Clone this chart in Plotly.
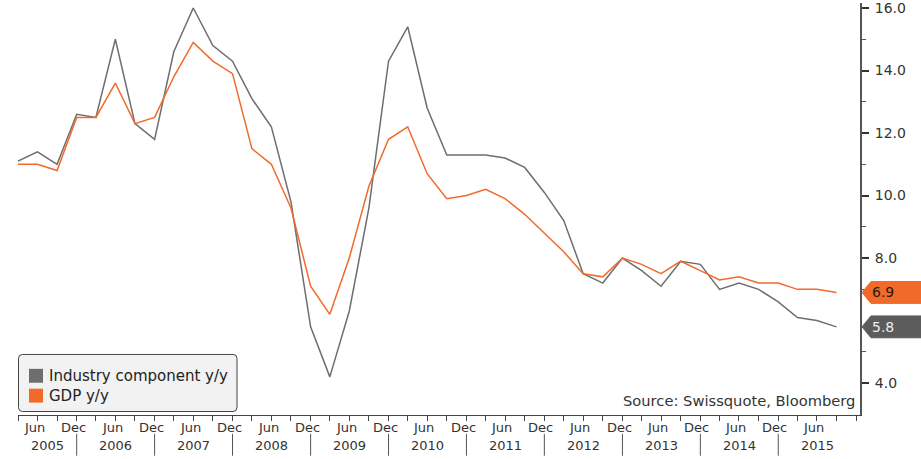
import plotly.graph_objects as go

# Quarter-end dates, Q1 2005 .. Q3 2015
quarters = [f"{y}-{md}" for y in range(2005, 2016)
            for md in ("03-31", "06-30", "09-30", "12-31")][:43]

industry_yy = [11.1, 11.4, 11.0, 12.6, 12.5, 15.0, 12.3, 11.8, 14.6, 16.0,
               14.8, 14.3, 13.1, 12.2, 9.8, 5.8, 4.2, 6.3, 9.6, 14.3,
               15.4, 12.8, 11.3, 11.3, 11.3, 11.2, 10.9, 10.1, 9.2, 7.5,
               7.2, 8.0, 7.6, 7.1, 7.9, 7.8, 7.0, 7.2, 7.0, 6.6,
               6.1, 6.0, 5.8]
gdp_yy = [11.0, 11.0, 10.8, 12.5, 12.5, 13.6, 12.3, 12.5, 13.8, 14.9,
          14.3, 13.9, 11.5, 11.0, 9.6, 7.1, 6.2, 8.0, 10.3, 11.8,
          12.2, 10.7, 9.9, 10.0, 10.2, 9.9, 9.4, 8.8, 8.2, 7.5,
          7.4, 8.0, 7.8, 7.5, 7.9, 7.6, 7.3, 7.4, 7.2, 7.2,
          7.0, 7.0, 6.9]

series_names = ["Industry component y/y", "GDP y/y"]
series_colors = ["#6e6e6e", "#f26a2a"]
source_text = "Source: Swissquote, Bloomberg"

years = list(range(2005, 2016))
y_ticks = [4, 8, 10, 12, 14, 16]
y_minor = [5, 7, 9, 11, 13, 15]

FONT = "DejaVu Sans"
TXT = "#333333"

# plot area in pixels
W, H = 921, 459
L, R, T, B = 18, 61, 0, 44
PW, PH = W - L - R, H - T - B


def px_x(p):
    return (p - L) / PW


def px_y(p):
    return (H - B - p) / PH


fig = go.Figure()
for vals, name, col in zip([industry_yy, gdp_yy], series_names, series_colors):
    fig.add_trace(go.Scatter(x=quarters, y=vals, mode="lines", name=name,
                             line=dict(color=col, width=1.5),
                             showlegend=False))

tick_dates = [f"{y}-{md}" for y in years for md in ("03-31", "06-30", "09-30", "12-31")]

fig.update_layout(
    width=W, height=H,
    margin=dict(l=L, r=R, t=T, b=B, pad=0),
    paper_bgcolor="white", plot_bgcolor="white",
    font=dict(family=FONT, color=TXT),
    xaxis=dict(type="date", range=["2005-03-31", "2016-01-18"],
               showgrid=False, zeroline=False,
               showline=True, linecolor="#444", linewidth=1,
               ticks="outside", ticklen=5, tickcolor="#444", tickwidth=1,
               tickvals=tick_dates, showticklabels=False),
    yaxis=dict(side="right", range=[2.98, 16.16],
               showgrid=False, zeroline=False,
               showline=True, linecolor="#555", linewidth=2,
               ticks="outside", ticklen=7, tickwidth=2, tickcolor="#333",
               tickvals=y_ticks, ticktext=[f"{v:.1f}" for v in y_ticks],
               tickfont=dict(family=FONT, size=14, color=TXT),
               ticklabelstandoff=3, ticklabeloverflow="allow",
               minor=dict(tickvals=y_minor, ticks="outside", ticklen=4,
                          tickwidth=1, tickcolor="#555")),
)

shapes = []
annotations = []

# month and year labels under the time axis
for y in years:
    for m in (6, 12):
        if y == 2015 and m == 12:
            continue
        annotations.append(dict(
            x=f"{y}-{m:02d}-15", y=px_y(428), xref="x", yref="paper",
            text="Jun" if m == 6 else "Dec", showarrow=False,
            xanchor="center", yanchor="middle",
            font=dict(family=FONT, size=13, color=TXT)))
    mid = "2005-08-15" if y == 2005 else f"{y}-07-01"
    annotations.append(dict(
        x=mid, y=px_y(446), xref="x", yref="paper", text=str(y),
        showarrow=False, xanchor="center", yanchor="middle",
        font=dict(family=FONT, size=13, color=TXT)))
    if y < 2015:
        shapes.append(dict(type="line", xref="x", yref="paper",
                           x0=f"{y}-12-31", x1=f"{y}-12-31",
                           y0=px_y(434), y1=px_y(456),
                           line=dict(color="#555", width=1)))

# last-value tags on the right axis
for vals, col, fcol in [(gdp_yy, series_colors[1], "#2a1a10"),
                        (industry_yy, "#5c5c5c", "#eeeeee")]:
    v = vals[-1]
    h = 11 / (PH / (16.16 - 2.98))
    xp, xc, xr = px_x(862), px_x(871), px_x(925)
    path = (f"M {xp},{v} L {xc},{v + h} L {xr},{v + h} "
            f"L {xr},{v - h} L {xc},{v - h} Z")
    shapes.append(dict(type="path", xref="paper", yref="y", path=path,
                       fillcolor=col, line=dict(color=col, width=1),
                       layer="above"))
    annotations.append(dict(x=px_x(883), y=v, xref="paper", yref="y",
                            text=f"{v:.1f}", showarrow=False,
                            xanchor="center", yanchor="middle",
                            font=dict(family=FONT, size=14, color=fcol)))

# legend box with rounded corners
x0, x1 = px_x(18.5), px_x(237)
y0, y1 = px_y(411.5), px_y(354)
rx, ry = 4 / PW, 4 / PH
box = (f"M {x0 + rx},{y1} L {x1 - rx},{y1} Q {x1},{y1} {x1},{y1 - ry} "
       f"L {x1},{y0 + ry} Q {x1},{y0} {x1 - rx},{y0} "
       f"L {x0 + rx},{y0} Q {x0},{y0} {x0},{y0 + ry} "
       f"L {x0},{y1 - ry} Q {x0},{y1} {x0 + rx},{y1} Z")
shapes.append(dict(type="path", xref="paper", yref="paper", path=box,
                   fillcolor="#f2f2f2", line=dict(color="#444", width=1),
                   layer="above"))
for i, (name, col) in enumerate(zip(series_names, series_colors)):
    cy = 375.5 + 20 * i
    shapes.append(dict(type="rect", xref="paper", yref="paper",
                       x0=px_x(29), x1=px_x(43),
                       y0=px_y(cy + 7), y1=px_y(cy - 7),
                       fillcolor=col, line=dict(width=0), layer="above"))
    annotations.append(dict(x=px_x(47), y=px_y(cy), xref="paper", yref="paper",
                            text=name, showarrow=False,
                            xanchor="left", yanchor="middle",
                            font=dict(family=FONT, size=15, color="#222")))

annotations.append(dict(x=px_x(857), y=px_y(400), xref="paper", yref="paper",
                        text=source_text, showarrow=False,
                        xanchor="right", yanchor="middle",
                        font=dict(family=FONT, size=14.7, color=TXT)))

fig.update_layout(shapes=shapes, annotations=annotations)
fig.write_html("out.html")
